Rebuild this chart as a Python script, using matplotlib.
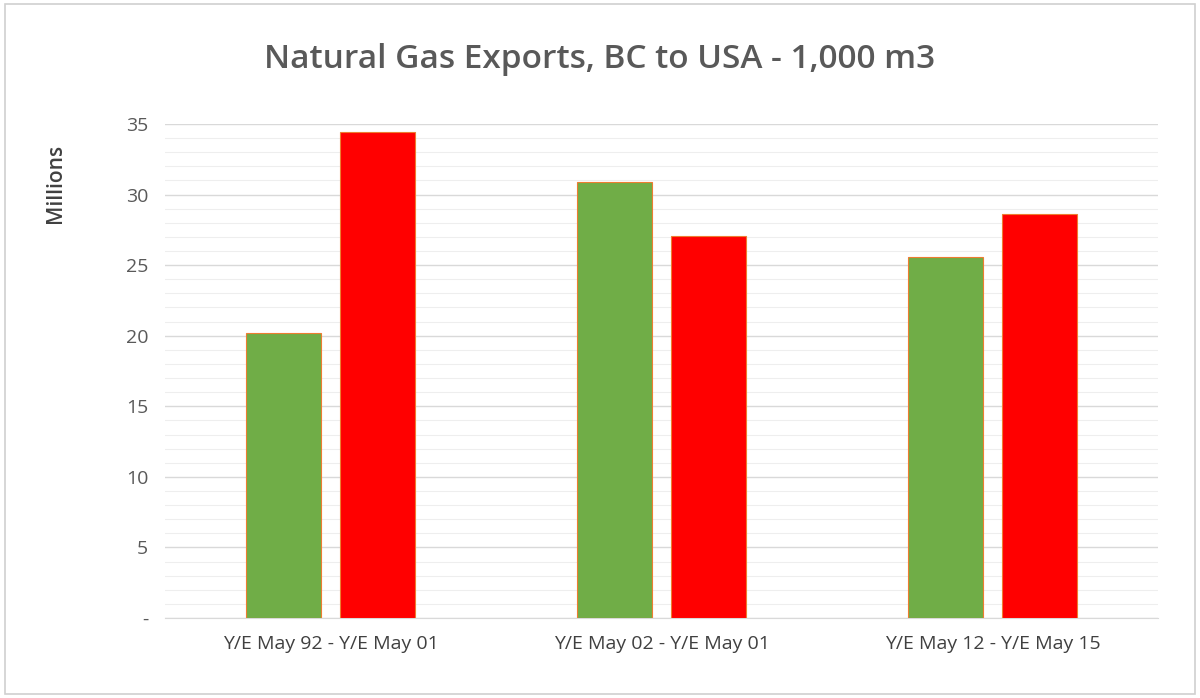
import matplotlib
matplotlib.use("Agg")
import matplotlib.pyplot as plt
import numpy as np
from matplotlib.patches import Rectangle

categories = ["Y/E May 92 - Y/E May 01", "Y/E May 02 - Y/E May 01", "Y/E May 12 - Y/E May 15"]
green_vals = [20.2, 30.9, 25.6]
red_vals = [34.4, 27.1, 28.6]
yticks = [0, 5, 10, 15, 20, 25, 30, 35]
ytick_labels = ["-", "5", "10", "15", "20", "25", "30", "35"]

plt.rcParams['font.family'] = ['Open Sans', 'DejaVu Sans']
fig = plt.figure(figsize=(12, 6.98), dpi=100)
ax = fig.add_axes([165/1200, 1-618/698, (1158-165)/1200, (618-124)/698])
fig.patches.append(Rectangle((0.004, 0.006), 0.992, 0.988, transform=fig.transFigure,
                             fill=False, edgecolor='#d0d0d0', lw=1.2))
x = np.arange(len(categories))
w = 0.226
ax.bar(x - 0.143, green_vals, w, color='#70AD47', edgecolor='#ED7D31', lw=0.8, zorder=3)
ax.bar(x + 0.143, red_vals, w, color='#FF0000', edgecolor='#ED7D31', lw=0.8, zorder=3)
ax.set_xlim(-0.5, 2.5)
ax.set_ylim(0, 35)
ax.set_yticks(yticks)
ax.set_yticklabels(ytick_labels, fontsize=14, color='#595959')
ax.set_yticks(np.arange(0, 36, 1), minor=True)
ax.set_xticks(x)
ax.set_xticklabels(categories, fontsize=14, color='#404040')
ax.tick_params(axis='both', length=0, which='both', pad=12)
ax.grid(axis='y', which='major', color='#d9d9d9', lw=1, zorder=0)
ax.grid(axis='y', which='minor', color='#eeeeee', lw=0.8, zorder=0)
for s in ['top', 'right', 'left']:
    ax.spines[s].set_visible(False)
ax.spines['bottom'].set_color('#d9d9d9')
ax.set_ylabel("Millions", fontsize=15, color='#404040', fontweight='semibold')
ax.yaxis.set_label_coords(-0.1, 0.88)
fig.text(0.5, 1-60/698, "Natural Gas Exports, BC to USA - 1,000 m3", ha='center', va='center',
         fontsize=24, color='#595959', fontweight='semibold')
fig.savefig("out.png", dpi=100)
